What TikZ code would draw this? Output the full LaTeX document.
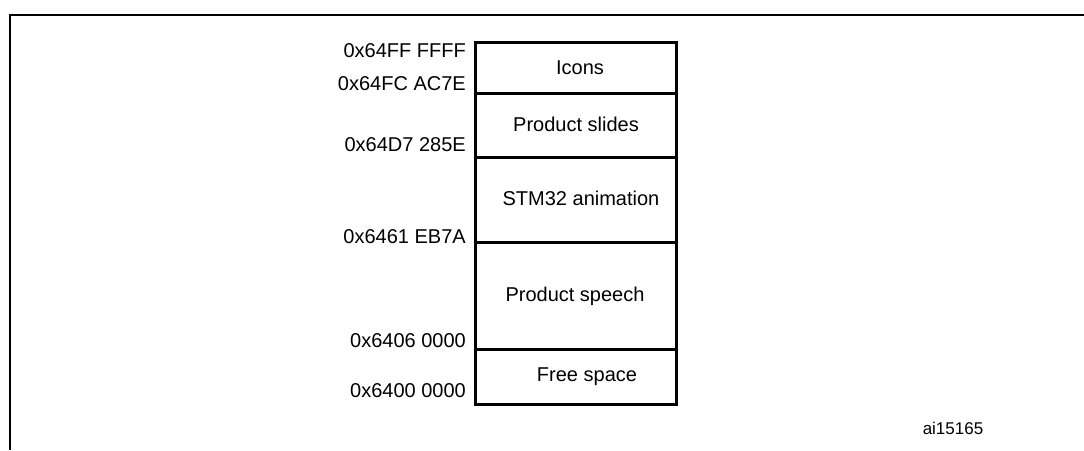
\documentclass[tikz,border=0pt]{standalone}
\usepackage{fontspec}
\setmainfont{Liberation Sans}
\begin{document}
\begin{tikzpicture}[x=1pt,y=-1pt,
  seg/.style={draw,line width=3pt,minimum width=201pt,inner sep=0pt,outer sep=0pt},
  addr/.style={anchor=east,inner sep=0pt,font=\fontsize{20}{23}\selectfont},
  frameline/.style={line width=2.5pt}]
\useasboundingbox (0,0) rectangle (1084,450);
% outer frame
\coordinate (ftl) at (10,15);
\coordinate (ftr) at (1084,15);
\coordinate (fbl) at (10,450);
\draw[frameline] (ftr) -- (ftl) -- (fbl);
% memory segments
\node[seg,minimum height=51pt] (icons) at (575.5,67.5) {};
\node[seg,minimum height=64pt] (slides) at (575.5,125) {};
\node[seg,minimum height=85pt] (anim) at (575.5,199.5) {};
\node[seg,minimum height=107pt] (speech) at (575.5,295.5) {};
\node[seg,minimum height=55pt] (free) at (575.5,376.5) {};
% segment texts
\node[addr,anchor=center] (ticons) at (580,68) {Icons};
\node[addr,anchor=center] (tslides) at (576,124) {Product slides};
\node[addr,anchor=center] (tanim) at (581,198) {STM32 animation};
\node[addr,anchor=center] (tspeech) at (575,296) {Product speech};
\node[addr,anchor=center] (tfree) at (587,377) {Free space};
% addresses
\node[addr] (a1) at (466,51) {0x64FF FFFF};
\node[addr] (a2) at (466,84) {0x64FC AC7E};
\node[addr] (a3) at (466,145) {0x64D7 285E};
\node[addr] (a4) at (466,237) {0x6461 EB7A};
\node[addr] (a5) at (466,341) {0x6406 0000};
\node[addr] (a6) at (466,391) {0x6400 0000};
% figure id
\node[addr,anchor=center,font=\fontsize{17}{20}\selectfont] (id) at (953,428) {ai15165};
\end{tikzpicture}
\end{document}
